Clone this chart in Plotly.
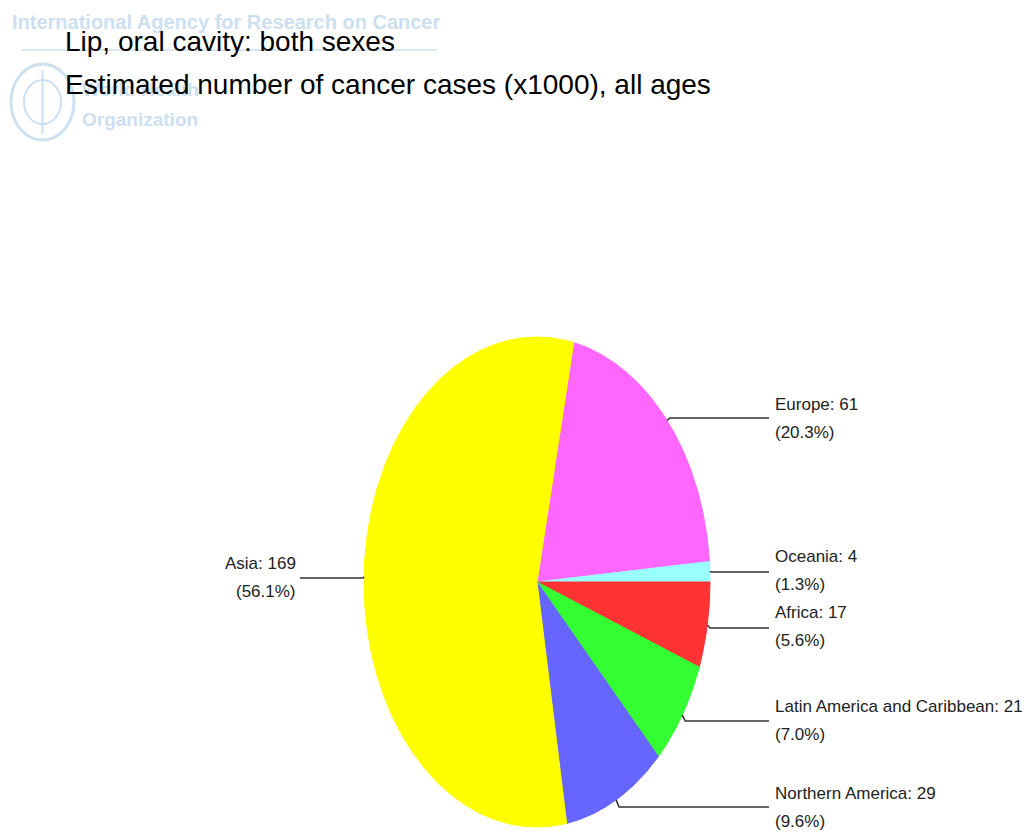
import numpy as np
import plotly.graph_objects as go

# ---------------- data ----------------
regions = ["Europe", "Oceania", "Africa", "Latin America and Caribbean",
           "Northern America", "Asia"]
cases = [61, 4, 17, 21, 29, 169]          # x1000
colors = ["#FF66FF", "#99FFFF", "#FF3333", "#33FF33", "#6666FF", "#FFFF00"]
title_lines = ["Lip, oral cavity: both sexes",
               "Estimated number of cancer cases (x1000), all ages"]

# ---------------- layout constants (pixel space) ----------------
W, H = 1026, 834
CX, CY, RX, RY = 537, 582, 173, 245       # elliptical pie
START = 12.26                              # deg clockwise from 12 o'clock
label_line_y = [418, 572, 628, 721, 807, 578]
label_text_y = [404, 556, 612, 706, 793, 563]
LINE2_DY = 28
RIGHT_LINE_END, RIGHT_TEXT_X = 769, 773
LEFT_LINE_END, LEFT_TEXT_X = 300, 298

FONT = "Liberation Sans, Arial, sans-serif"
WM = "#cde0f0"

total = sum(cases)
fig = go.Figure()
annotations = []

# watermark (drawn first, below everything)
annotations.append(dict(x=10, y=22, text="<b>International Agency for Research on Cancer</b>",
                        xanchor="left", yanchor="middle",
                        font=dict(family=FONT, size=20, color=WM)))
annotations.append(dict(x=80, y=89, text="<b>World Health</b>", xanchor="left", yanchor="middle",
                        font=dict(family=FONT, size=19, color=WM)))
annotations.append(dict(x=80, y=119, text="<b>Organization</b>", xanchor="left", yanchor="middle",
                        font=dict(family=FONT, size=19, color=WM)))
shapes = [
    dict(type="line", x0=22, x1=437, y0=50, y1=50, line=dict(color=WM, width=1.5), layer="below"),
    dict(type="circle", x0=11, x1=74, y0=64, y1=140, line=dict(color=WM, width=3), layer="below"),
    dict(type="circle", x0=24, x1=61, y0=80, y1=124, line=dict(color=WM, width=2), layer="below"),
    dict(type="line", x0=42.5, x1=42.5, y0=70, y1=134, line=dict(color=WM, width=2), layer="below"),
]

# slices
cum = 0
for name, v, c in zip(regions, cases, colors):
    a0 = START + 360 * cum / total
    a1 = START + 360 * (cum + v) / total
    t = np.radians(np.linspace(a0, a1, max(4, int((a1 - a0) * 3))))
    xs = np.concatenate([[CX], CX + RX * np.sin(t), [CX]])
    ys = np.concatenate([[CY], CY - RY * np.cos(t), [CY]])
    fig.add_trace(go.Scatter(x=xs, y=ys, fill="toself", fillcolor=c, mode="lines",
                             line=dict(color=c, width=1), hoverinfo="skip", showlegend=False))
    cum += v

# connectors + labels
cum = 0
for i, (name, v) in enumerate(zip(regions, cases)):
    mid = np.radians(START + 360 * (cum + v / 2) / total)
    ex, ey = CX + RX * np.sin(mid), CY - RY * np.cos(mid)
    ly = label_line_y[i]
    pct = 100 * v / total
    right = np.sin(mid) > 0
    if right:
        lx = [ex, ex + 3, RIGHT_LINE_END]
        tx, anchor = RIGHT_TEXT_X, "left"
    else:
        lx = [ex, ex - 1, LEFT_LINE_END]
        tx, anchor = LEFT_TEXT_X, "right"
    fig.add_trace(go.Scatter(x=lx, y=[ey, ly, ly], mode="lines",
                             line=dict(color="#333333", width=1.6),
                             hoverinfo="skip", showlegend=False))
    annotations.append(dict(x=tx, y=label_text_y[i], text=f"{name}: {v}", xanchor=anchor,
                            yanchor="middle", font=dict(family=FONT, size=17, color="#222222")))
    annotations.append(dict(x=tx, y=label_text_y[i] + LINE2_DY, text=f"({pct:.1f}%)",
                            xanchor=anchor, yanchor="middle",
                            font=dict(family=FONT, size=17, color="#222222")))
    cum += v

# title
annotations.append(dict(x=63, y=41, text=title_lines[0], xanchor="left", yanchor="middle",
                        font=dict(family=FONT, size=28, color="black")))
annotations.append(dict(x=63, y=84, text=title_lines[1], xanchor="left", yanchor="middle",
                        font=dict(family=FONT, size=28, color="black")))

for a in annotations:
    a.update(xref="x", yref="y", showarrow=False)

fig.update_layout(
    width=W, height=H, margin=dict(l=0, r=0, t=0, b=0),
    paper_bgcolor="white", plot_bgcolor="white",
    xaxis=dict(range=[0, W], visible=False, fixedrange=True),
    yaxis=dict(range=[H, 0], visible=False, fixedrange=True),
    annotations=annotations, shapes=shapes, showlegend=False,
)
fig.write_html("out.html", config={"displayModeBar": False},
               post_script="document.body.style.margin='0';")
